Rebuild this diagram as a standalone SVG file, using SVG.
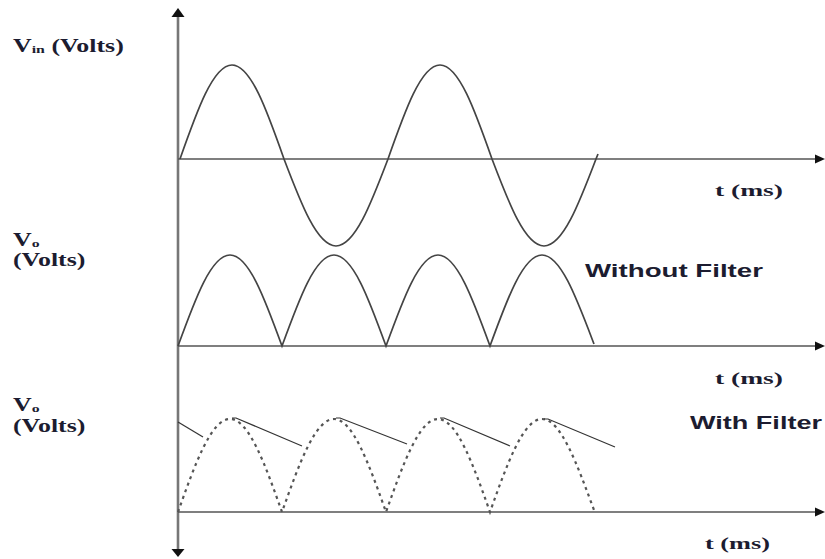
<svg xmlns="http://www.w3.org/2000/svg" width="825" height="559" viewBox="0 0 825 559">
<style>
.ax{stroke:#555;stroke-width:1.4;fill:none}
.vax{stroke:#777;stroke-width:2.6;fill:none}
.wave{stroke:#444;stroke-width:1.7;fill:none}
.dot{stroke:#555;stroke-width:2.2;fill:none;stroke-dasharray:3 4}
.dis{stroke:#333;stroke-width:1.2;fill:none}
.arr{fill:#111}
.ser{font-family:"Liberation Serif","DejaVu Serif","Times New Roman",serif;font-weight:bold;fill:#1c1c30}
.san{font-family:"Liberation Sans",Arial,sans-serif;font-weight:bold;fill:#1c1c30}
</style>
<rect width="825" height="559" fill="#fff"/>
<g id="axes">
<line class="vax" x1="178" y1="16" x2="178" y2="550"/>
<polygon class="arr" points="178,8 171.5,17 184.5,17"/>
<polygon class="arr" points="178,557 171.5,549 184.5,549"/>
<line class="ax" x1="178" y1="159" x2="816" y2="159"/>
<polygon class="arr" points="825,159 815,154.5 815,163.5"/>
<line class="ax" x1="178" y1="346" x2="816" y2="346"/>
<polygon class="arr" points="825,346 815,341.5 815,350.5"/>
<line class="ax" x1="178" y1="512" x2="816" y2="512"/>
<polygon class="arr" points="825,512 815,507.5 815,516.5"/>
</g>
<g id="input-sine">
<path class="wave" d="M180,159 C196.96,110.84 213.18,65 232,65 C250.82,65 267.04,110.84 284,159 C300.96,203.57 317.18,246 336,246 C354.82,246 371.04,203.57 388,159 C404.96,110.84 421.18,65 440,65 C458.82,65 475.04,110.84 492,159 C508.96,203.57 525.18,246 544,246 C562.82,246 579.04,203.57 596,159 L598,154"/>
</g>
<g id="rectified">
<path class="wave" d="M178,346 C194.96,299.38 211.18,255 230,255 C248.82,255 265.04,299.38 282,346 C298.96,299.38 315.18,255 334,255 C352.82,255 369.04,299.38 386,346 C402.96,299.38 419.18,255 438,255 C456.82,255 473.04,299.38 490,346 C506.96,299.38 523.18,255 542,255 C560.82,255 577.04,299.38 594,344"/>
</g>
<g id="filtered">
<path class="dot" d="M178,512 C194.96,464.36 211.18,419 230,419 C248.82,419 265.04,464.36 282,512 C298.96,464.36 315.18,419 334,419 C352.82,419 369.04,464.36 386,512 C402.96,464.36 419.18,419 438,419 C456.82,419 473.04,464.36 490,512 C506.96,464.36 523.18,419 542,419 C560.82,419 577.04,464.36 594,510"/>
<path class="dis" d="M178,422 L203,437"/>
<path class="dis" d="M232,418 L236,418 L302,446"/>
<path class="dis" d="M336,418 L340,418 L407,444"/>
<path class="dis" d="M440,418 L444,418 L510,446"/>
<path class="dis" d="M544,419 L548,419 L615,447"/>
</g>
<g id="labels">
<g transform="translate(13 0) scale(1.44 1)">
<text class="ser" font-size="18"><tspan x="0" y="52">V</tspan><tspan font-size="11" dy="1">in</tspan><tspan dy="-1"> (Volts)</tspan></text>
</g>
<g transform="translate(13 0) scale(1.44 1)">
<text class="ser" font-size="18"><tspan x="0" y="246">V</tspan><tspan font-size="11" dy="1">o</tspan><tspan x="0" y="266.5">(Volts)</tspan></text>
</g>
<g transform="translate(13 0) scale(1.44 1)">
<text class="ser" font-size="18"><tspan x="0" y="411">V</tspan><tspan font-size="11" dy="1">o</tspan><tspan x="0" y="432">(Volts)</tspan></text>
</g>
<text class="ser" x="715" y="196" font-size="17" textLength="68" lengthAdjust="spacingAndGlyphs">t (ms)</text>
<text class="ser" x="715" y="384" font-size="17" textLength="68" lengthAdjust="spacingAndGlyphs">t (ms)</text>
<text class="ser" x="705" y="549" font-size="17" textLength="65" lengthAdjust="spacingAndGlyphs">t (ms)</text>
<text class="san" x="585" y="277" font-size="18" textLength="178" lengthAdjust="spacingAndGlyphs">Without Filter</text>
<text class="san" x="690" y="429" font-size="18" textLength="132" lengthAdjust="spacingAndGlyphs">With Filter</text>
</g>
</svg>
